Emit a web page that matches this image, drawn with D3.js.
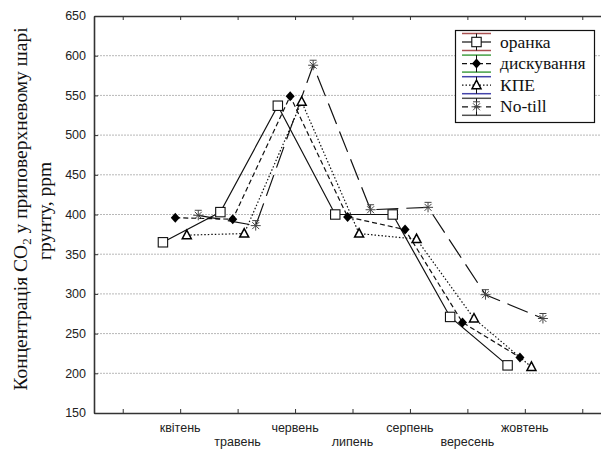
<!DOCTYPE html>
<html>
<head>
<meta charset="utf-8">
<script src="https://cdn.jsdelivr.net/npm/d3@7/dist/d3.min.js"></script>
<style>
  html, body { margin: 0; padding: 0; background: #fff; }
  svg { display: block; }
</style>
</head>
<body>
<svg id="chart" width="601" height="450"></svg>
<script>
// ---- data ----
const months = ["квітень", "травень", "червень", "липень", "серпень", "вересень", "жовтень"];
const seriesNames = ["оранка", "дискування", "КПЕ", "No-till"];
const oranka = [365, 403, 537, 400, 400, 271, 210];
const dyskuvannia = [396, 394, 549, 397, 381, 264, 220];
const kpe = [374, 376, 542, 376, 369, 269, 208];
const noTill = [399, 386, 588, 406, 409, 299, 269];
const yTicks = [150, 200, 250, 300, 350, 400, 450, 500, 550, 600, 650];
const legendColors = ["#a85050", "#44a044", "#4444aa", "#505050"];

const seriesValues = [oranka, dyskuvannia, kpe, noTill];
const offsets = [-0.3, -0.085, 0.115, 0.315];
const dashes = [null, "5,3", "1.5,2", "22,8"];
const markers = ["square", "diamond", "triangle", "star"];

const svg = d3.select("#chart");
const L = 94, R = 611, T = 16, B = 413;
const x = d3.scaleLinear().domain([-0.5, 8.5]).range([L, R]);
const y = d3.scaleLinear().domain([150, 650]).range([B, T]);

// grid lines
svg.append("g").selectAll("line").data(yTicks.filter(v => v > 150 && v < 650)).join("line")
  .attr("x1", L).attr("x2", R)
  .attr("y1", d => y(d)).attr("y2", d => y(d))
  .attr("stroke", "#b8b8b8").attr("stroke-width", 1).attr("stroke-dasharray", "2,1");

// axes
const xTickVals = d3.range(0, 9);
const axisColor = "#333";
const gB = svg.append("g").attr("transform", `translate(0,${B})`)
  .call(d3.axisTop(x).tickValues(xTickVals).tickSize(4).tickFormat("").tickSizeOuter(0));
const gT = svg.append("g").attr("transform", `translate(0,${T})`)
  .call(d3.axisBottom(x).tickValues(xTickVals).tickSize(4).tickFormat("").tickSizeOuter(0));
const gL = svg.append("g").attr("transform", `translate(${L},0)`)
  .call(d3.axisRight(y).tickValues(yTicks).tickSize(4).tickFormat("").tickSizeOuter(0));
[gB, gT, gL].forEach(g => {
  g.select(".domain").attr("stroke", axisColor).attr("stroke-width", 1.6);
  g.selectAll(".tick line").attr("stroke", axisColor).attr("stroke-width", 1);
});

// y tick labels
svg.append("g").selectAll("text").data(yTicks).join("text")
  .attr("x", 86).attr("y", d => y(d)).attr("dy", "0.35em")
  .attr("text-anchor", "end")
  .attr("font-family", "Liberation Sans, Arial, sans-serif").attr("font-size", 12.5)
  .attr("fill", "#222")
  .text(d => d);

// x labels (staggered)
svg.append("g").selectAll("text").data(months).join("text")
  .attr("x", (d, i) => x(i + 1))
  .attr("y", (d, i) => i % 2 === 0 ? 432 : 446)
  .attr("text-anchor", "middle")
  .attr("font-family", "Liberation Sans, Arial, sans-serif").attr("font-size", 12.5)
  .attr("fill", "#222")
  .text(d => d);

// y title
const title = svg.append("text")
  .attr("transform", "translate(27,209) rotate(-90)")
  .attr("text-anchor", "middle")
  .attr("font-family", "Liberation Serif, Times New Roman, serif").attr("font-size", 19.5)
  .attr("fill", "#111");
title.append("tspan").text("Концентрація CO");
title.append("tspan").attr("font-size", 13).attr("dy", 4).text("2");
title.append("tspan").attr("dy", -4).text(" у приповерхневому шарі");
svg.append("text")
  .attr("transform", "translate(51,211) rotate(-90)")
  .attr("text-anchor", "middle")
  .attr("font-family", "Liberation Serif, Times New Roman, serif").attr("font-size", 19.5)
  .attr("fill", "#111")
  .text("грунту, ppm");

// marker drawing
function drawMarker(g, type, cx, cy) {
  if (type === "square") {
    g.append("rect").attr("x", cx - 4.7).attr("y", cy - 4.7).attr("width", 9.4).attr("height", 9.4)
      .attr("fill", "#fff").attr("stroke", "#111").attr("stroke-width", 1.1);
  } else if (type === "diamond") {
    g.append("path").attr("d", `M${cx},${cy - 5}L${cx + 4.5},${cy}L${cx},${cy + 5}L${cx - 4.5},${cy}Z`)
      .attr("fill", "#000");
  } else if (type === "triangle") {
    g.append("path").attr("d", `M${cx},${cy - 5}L${cx + 4.5},${cy + 3.5}L${cx - 4.5},${cy + 3.5}Z`)
      .attr("fill", "#fff").attr("stroke", "#000").attr("stroke-width", 1.5);
  } else if (type === "star") {
    const s = 5;
    const p = `M${cx - s},${cy}L${cx + s},${cy}M${cx},${cy - s}L${cx},${cy + s}` +
      `M${cx - 3.5},${cy - 3.5}L${cx + 3.5},${cy + 3.5}M${cx + 3.5},${cy - 3.5}L${cx - 3.5},${cy + 3.5}` +
      `M${cx - 3.5},${cy - s}L${cx + 3.5},${cy - s}`;
    g.append("path").attr("d", p).attr("stroke", "#444").attr("stroke-width", 1).attr("fill", "none");
  }
}

// lines
const line = d3.line().x(d => x(d[0])).y(d => y(d[1]));
seriesValues.forEach((vals, s) => {
  const pts = vals.map((v, i) => [i + 1 + offsets[s], v]);
  svg.append("path").datum(pts).attr("d", line)
    .attr("fill", "none").attr("stroke", "#111").attr("stroke-width", 1.2)
    .attr("stroke-dasharray", dashes[s]);
});
// markers
seriesValues.forEach((vals, s) => {
  const g = svg.append("g");
  vals.forEach((v, i) => drawMarker(g, markers[s], x(i + 1 + offsets[s]), y(v)));
});

// legend
const lg = svg.append("g");
lg.append("rect").attr("x", 455.5).attr("y", 30.5).attr("width", 139).attr("height", 92)
  .attr("fill", "#fff").attr("stroke", "#111").attr("stroke-width", 1.2);
seriesNames.forEach((name, i) => {
  const cy = 42 + i * 21.6;
  const x1 = 462, x2 = 491, mx = 476.5;
  lg.append("line").attr("x1", x1).attr("x2", x2).attr("y1", cy - 8.5).attr("y2", cy - 8.5)
    .attr("stroke", legendColors[i]).attr("stroke-width", 1.5);
  lg.append("line").attr("x1", x1).attr("x2", x2).attr("y1", cy + 8.5).attr("y2", cy + 8.5)
    .attr("stroke", legendColors[i]).attr("stroke-width", 1.5);
  lg.append("line").attr("x1", mx).attr("x2", mx).attr("y1", cy - 8.5).attr("y2", cy + 8.5)
    .attr("stroke", "#111").attr("stroke-width", 1);
  lg.append("line").attr("x1", x1).attr("x2", x2).attr("y1", cy).attr("y2", cy)
    .attr("stroke", "#111").attr("stroke-width", 1.2).attr("stroke-dasharray", i === 3 ? "6,6" : dashes[i]);
  drawMarker(lg, markers[i], mx, cy);
  lg.append("text").attr("x", 500).attr("y", cy + 5.5)
    .attr("font-family", "Liberation Serif, Times New Roman, serif").attr("font-size", 17.5)
    .attr("fill", "#111").text(name);
});
</script>
</body>
</html>
